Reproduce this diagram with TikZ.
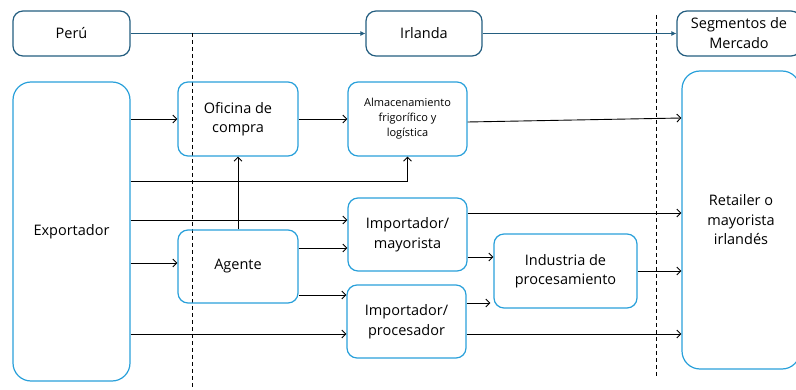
\documentclass[tikz,border=0pt]{standalone}
\usepackage{fontspec}
\setmainfont{Open Sans}
\usetikzlibrary{arrows.meta}
\definecolor{boxblue}{RGB}{41,160,218}
\definecolor{topblue}{RGB}{36,94,128}
\begin{document}
\begin{tikzpicture}[x=1pt,y=-1pt,
  box/.style={draw=boxblue, line width=1.2pt, rounded corners=10pt, align=center,
    inner sep=0pt, font=\fontsize{14.5}{19.5}\selectfont},
  topbox/.style={box, draw=topblue, minimum height=45pt},
  flow/.style={-{Straight Barb[length=4pt,width=8pt]}, line width=0.9pt},
  topflow/.style={flow, draw=topblue, -{Latex[length=5pt,width=5pt]}},
  border/.style={dashed, dash pattern=on 4pt off 3pt, line width=0.9pt}]
\useasboundingbox (0,0) rectangle (796,390);
\clip (0,0) rectangle (796,390);

% country bar
\node[topbox, minimum width=117pt] (peru) at (71.5,33.5) {Perú};
\node[topbox, minimum width=116pt] (irl) at (424,33.5) {Irlanda};
\node[topbox, minimum width=124pt, font=\fontsize{14.5}{20}\selectfont] (seg) at (739,33.5) {Segmentos de\\Mercado};
\draw[topflow] (peru) -- (irl);
\draw[topflow] (irl) -- (seg);

% borders
\draw[border] (192,33) -- (192,390);
\draw[border] (656,15) -- (656,377);

% actors
\node[box, rounded corners=18pt, minimum width=117pt, minimum height=299pt] (exp) at (71.5,231.5) {Exportador};
\node[box, minimum width=120pt, minimum height=74pt] (ofi) at (238,119) {Oficina de\\compra};
\node[box, minimum width=119pt, minimum height=74pt, font=\fontsize{11}{15}\selectfont] (alm) at (407.5,119) {Almacenamiento\\frigorífico y\\logística};
\node[box, minimum width=120pt, minimum height=73pt] (age) at (238,266.5) {Agente};
\node[box, minimum width=119pt, minimum height=73pt] (may) at (407.5,234.5) {Importador/\\mayorista};
\node[box, minimum width=119pt, minimum height=73pt] (pro) at (406.5,321.5) {Importador/\\procesador};
\node[box, minimum width=143pt, minimum height=74pt] (ind) at (565.5,271) {Industria de\\procesamiento};
\node[box, rounded corners=18pt, minimum width=118pt, minimum height=298pt] (ret) at (741,220) {Retailer o\\mayorista\\irlandés};

% flows
\draw[flow] (exp.east |- 0,119) -- (ofi.west |- 0,119);
\draw[flow] (ofi.east |- 0,119) -- (alm.west |- 0,119);
\draw[flow] (alm.east |- 0,122) -- (ret.west |- 0,118);
\draw[flow] (exp.east |- 0,181) -| (alm.south);
\draw[flow] (exp.east |- 0,220) -- (may.west |- 0,220);
\draw[flow] (age.north) -- (ofi.south);
\draw[flow] (exp.east |- 0,263) -- (age.west |- 0,263);
\draw[flow] (age.east |- 0,248) -- (may.west |- 0,248);
\draw[flow] (age.east |- 0,295) -- (pro.west |- 0,295);
\draw[flow] (exp.east |- 0,334) -- (pro.west |- 0,334);
\draw[flow] (may.east |- 0,213) -- (ret.west |- 0,213);
\draw[flow] (may.east |- 0,257) -- (ind.west |- 0,257);
\draw[flow] (pro.east |- 0,303) -- ([xshift=-3pt]ind.west |- 0,303);
\draw[flow] (ind.east |- 0,271) -- (ret.west |- 0,271);
\draw[flow] (pro.east |- 0,334) -- (ret.west |- 0,334);

\end{tikzpicture}
\end{document}
